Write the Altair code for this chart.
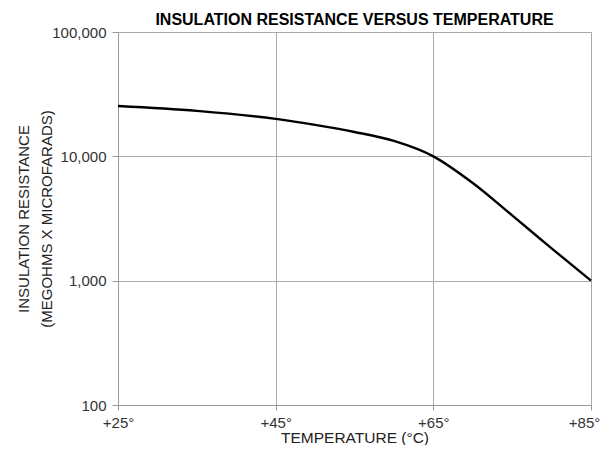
import altair as alt
import pandas as pd

temps = [25, 35, 45, 50, 55, 60, 65, 70, 75, 80, 85]
resistance = [25400, 23200, 20000, 17900, 15700, 13300, 10000, 6100, 3350, 1820, 1000]

df = pd.DataFrame({"temp": temps, "ir": resistance})

FONT = "Liberation Sans, Arial, sans-serif"

chart = alt.Chart(df).mark_line(color="black", strokeWidth=2.4, interpolate="monotone").encode(
    x=alt.X("temp:Q",
            scale=alt.Scale(domain=[25, 85], nice=False),
            axis=alt.Axis(values=[25, 45, 65, 85], labelExpr="'+' + datum.value + '°'",
                          title="TEMPERATURE (°C)", titleFont=FONT, titleFontSize=15.5,
                          titleFontWeight="normal", titleColor="#222", titlePadding=0,
                          labelFont=FONT, labelFontSize=15, labelColor="#333",
                          labelPadding=5, tickSize=5, tickColor="#999",
                          labelOffset={"condition": {"test": "datum.value == 85", "value": -7}, "value": 0},
                          domainColor="#999", gridColor="#aaa", labelFlush=False)),
    y=alt.Y("ir:Q",
            scale=alt.Scale(type="log", domain=[100, 100000], nice=False),
            axis=alt.Axis(values=[100, 1000, 10000, 100000], format=",d",
                          title=["INSULATION RESISTANCE", "(MEGOHMS X MICROFARADS)"],
                          titleFont=FONT, titleFontSize=15, titleFontWeight="normal",
                          titleColor="#222", titlePadding=-3, titleLineHeight=23,
                          labelFont=FONT, labelFontSize=15, labelColor="#333",
                          labelPadding=6, tickSize=6, tickColor="#999",
                          domainColor="#999", gridColor="#aaa")),
).properties(
    width=473, height=373,
    title=alt.TitleParams("INSULATION RESISTANCE VERSUS TEMPERATURE", font=FONT,
                          fontSize=16, fontWeight="bold", color="black", offset=-3,
                          anchor="middle"),
    autosize=alt.AutoSizeParams(type="none"),
    padding={"left": 110, "top": 24, "right": 9, "bottom": 40},
).configure_view(stroke="#aaa", strokeWidth=1)

chart.save("out.html", embed_options={"renderer": "svg", "actions": False})
